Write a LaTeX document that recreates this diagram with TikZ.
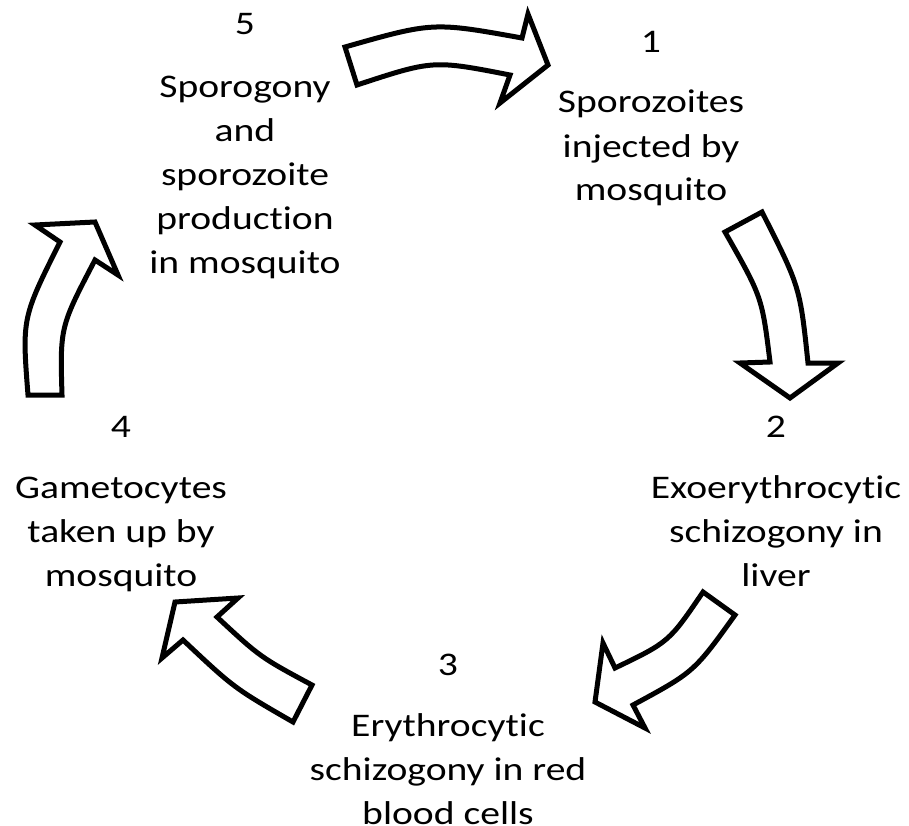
\documentclass[tikz,border=0pt]{standalone}
\usepackage{fontspec}
\setmainfont{Carlito}[FakeStretch=1.2, Ligatures=NoCommon]
\usetikzlibrary{positioning}

\begin{document}
\begin{tikzpicture}[
    x=1pt, y=-1pt,
    every node/.style={font=\fontsize{33}{44}\selectfont, inner sep=0pt},
    num/.style={anchor=base},
    % base = Grundlinie der letzten Zeile
    stage/.style={anchor=base, align=center},
    blockarrow/.style={draw=black, fill=white, line width=5pt, line join=miter}
]
    \useasboundingbox (0,0) rectangle (909,826);

    % --- Stufe 5: Sporogonie ---
    \node[num]   (n5)     at (245, 35) {5};
    \node[stage] (stage5) at (245, 273)
        {Sporogony\\and\\sporozoite\\production\\in mosquito};

    % --- Stufe 1: Sporozoiten ---
    \node[num]   (n1)     at (651, 53) {1};
    \node[stage] (stage1) at (651, 201)
        {Sporozoites\\injected by\\mosquito};

    % --- Stufe 2: Leber ---
    \node[num]   (n2)     at (776, 437) {2};
    \node[stage] (stage2) at (776, 586)
        {Exoerythrocytic\\schizogony in\\liver};

    % --- Stufe 3: Blut ---
    \node[num]   (n3)     at (448, 675) {3};
    \node[stage] (stage3) at (448, 824)
        {Erythrocytic\\schizogony in red\\blood cells};

    % --- Stufe 4: Gametozyten ---
    \node[num]   (n4)     at (121, 437) {4};
    \node[stage] (stage4) at (121, 586)
        {Gametocytes\\taken up by\\mosquito};

    % --- Blockpfeile (im Uhrzeigersinn) ---
    % 5 -> 1
    \draw[blockarrow] (345,47) .. controls (433,22) .. (522,38) -- (528,14)
        -- (548,65) -- (500,103) -- (510,75) .. controls (433,60) .. (357,85) -- cycle;
    % 1 -> 2
    \draw[blockarrow] (725,232) -- (762,212) .. controls (800,287) .. (808,363)
        -- (838,363) -- (790,398) -- (740,363) -- (770,362)
        .. controls (762,297) .. (725,232) -- cycle;
    % 2 -> 3
    \draw[blockarrow] (703,592) -- (735,615) .. controls (694,672) .. (633,705)
        -- (645,728) -- (595,702) -- (603,643) -- (615,668)
        .. controls (669,642) .. (703,592) -- cycle;
    % 3 -> 4
    \draw[blockarrow] (312,685) -- (293,722) .. controls (234,688) .. (183,640)
        -- (162,658) -- (175,602) -- (238,598) -- (217,617)
        .. controls (260,657) .. (312,685) -- cycle;
    % 4 -> 5
    \draw[blockarrow] (28,395) -- (62,395) .. controls (60,327) .. (95,260)
        -- (118,275) -- (95,222) -- (35,225) -- (60,242)
        .. controls (22,318) .. (28,395) -- cycle;

\end{tikzpicture}
\end{document}
